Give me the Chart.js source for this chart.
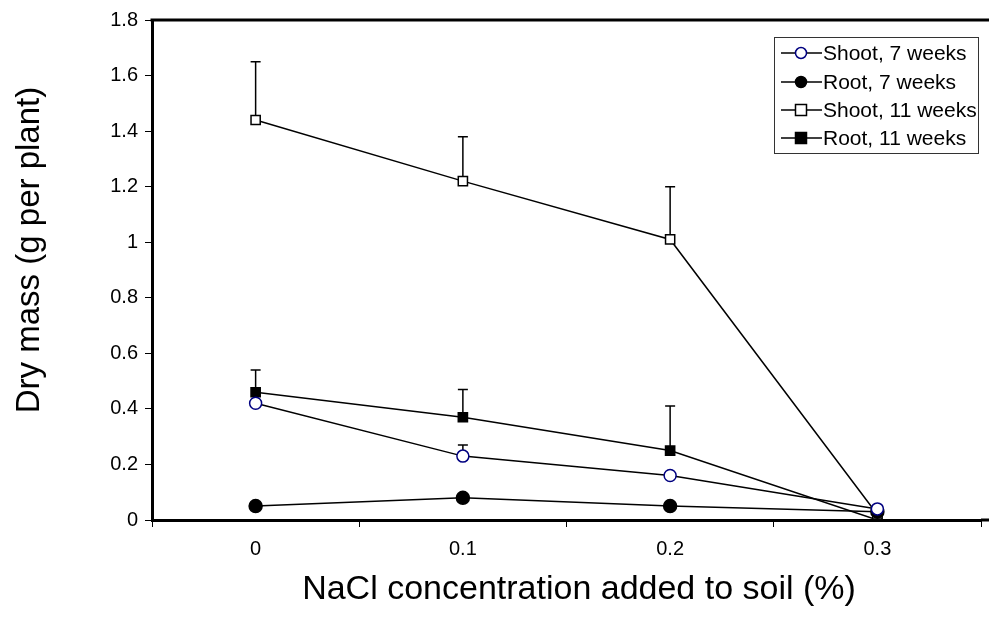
<!DOCTYPE html>
<html>
<head>
<meta charset="utf-8">
<script src="https://cdn.jsdelivr.net/npm/chart.js@4"></script>
<style>
html,body{margin:0;padding:0;background:#fff;}
#wrap{width:989px;height:619px;position:relative;}
</style>
</head>
<body>
<div id="wrap"><canvas id="c" width="989" height="619"></canvas></div>
<script>
const categories = ['0', '0.1', '0.2', '0.3'];
const shoot7 = [0.42, 0.23, 0.16, 0.04];
const root7 = [0.05, 0.08, 0.05, 0.03];
const shoot11 = [1.44, 1.22, 1.01, 0.02];
const root11 = [0.46, 0.37, 0.25, 0.00];
// upper ends of error bars (null = none shown)
const shoot7Err = [null, 0.27, null, null];
const root7Err = [null, null, null, null];
const shoot11Err = [1.65, 1.38, 1.20, null];
const root11Err = [0.54, 0.47, 0.41, null];
const seriesLabels = ['Shoot, 7 weeks', 'Root, 7 weeks', 'Shoot, 11 weeks', 'Root, 11 weeks'];
const yTicks = [0, 0.2, 0.4, 0.6, 0.8, 1, 1.2, 1.4, 1.6, 1.8];
const xTitle = 'NaCl concentration added to soil (%)';
const yTitle = 'Dry mass (g per plant)';

const FONT = "'Liberation Sans', Arial, sans-serif";

function ds(label, data, err, style, bg, border, radius) {
  return {
    label, data, errUpper: err,
    borderColor: '#000', borderWidth: 1.5,
    pointStyle: style, pointRadius: radius, pointHoverRadius: radius,
    pointBackgroundColor: bg, pointBorderColor: border, pointBorderWidth: 1.5,
    tension: 0, fill: false
  };
}

const errorBars = {
  id: 'errorBars',
  beforeDatasetsDraw(chart) {
    const ctx = chart.ctx, x = chart.scales.x, y = chart.scales.y;
    ctx.save();
    ctx.strokeStyle = '#000'; ctx.lineWidth = 1.5;
    chart.data.datasets.forEach(d => {
      (d.errUpper || []).forEach((u, i) => {
        if (u == null) return;
        const px = x.getPixelForValue(i);
        const p0 = y.getPixelForValue(d.data[i]);
        const p1 = y.getPixelForValue(u);
        ctx.beginPath();
        ctx.moveTo(px, p0); ctx.lineTo(px, p1);
        ctx.moveTo(px - 5, p1); ctx.lineTo(px + 5, p1);
        ctx.stroke();
      });
    });
    ctx.restore();
  },
  afterDraw(chart) {
    const ctx = chart.ctx, a = chart.chartArea;
    ctx.save();
    // top frame line and right extension of the x axis line
    ctx.strokeStyle = '#000'; ctx.lineWidth = 3;
    ctx.beginPath();
    ctx.moveTo(a.left - 1.5, a.top); ctx.lineTo(chart.width, a.top);
    ctx.moveTo(a.right, a.bottom); ctx.lineTo(chart.width, a.bottom);
    ctx.stroke();
    // axis titles
    ctx.fillStyle = '#000';
    ctx.textAlign = 'center'; ctx.textBaseline = 'middle';
    ctx.font = '34px ' + FONT;
    ctx.fillText(xTitle, 579, 590);
    ctx.save();
    ctx.translate(30, 250); ctx.rotate(-Math.PI / 2);
    ctx.font = '33px ' + FONT;
    ctx.fillText(yTitle, 0, 0);
    ctx.restore();
    // legend box
    const lx = 774, ly = 37, lw = 204, lh = 116;
    ctx.lineWidth = 1; ctx.strokeStyle = '#333';
    ctx.fillStyle = '#fff';
    ctx.fillRect(lx, ly, lw, lh);
    ctx.strokeRect(lx + 0.5, ly + 0.5, lw, lh);
    const rows = [53, 82, 110, 138];
    ctx.font = '21px ' + FONT;
    ctx.textAlign = 'left'; ctx.textBaseline = 'middle';
    chart.data.datasets.forEach((d, i) => {
      const ry = rows[i];
      ctx.strokeStyle = '#000'; ctx.lineWidth = 1.5;
      ctx.beginPath(); ctx.moveTo(781, ry); ctx.lineTo(822, ry); ctx.stroke();
      ctx.fillStyle = d.pointBackgroundColor; ctx.strokeStyle = d.pointBorderColor;
      ctx.beginPath();
      if (d.pointStyle === 'circle') { ctx.arc(801, ry, 5.5, 0, Math.PI * 2); }
      else { ctx.rect(795.5, ry - 5.5, 11, 11); }
      ctx.fill(); ctx.stroke();
      ctx.fillStyle = '#000';
      ctx.fillText(d.label, 823, ry + 1);
    });
    ctx.restore();
  }
};

new Chart(document.getElementById('c'), {
  type: 'line',
  data: {
    labels: categories,
    datasets: [
      ds(seriesLabels[0], shoot7, shoot7Err, 'circle', '#fff', '#000080', 6),
      ds(seriesLabels[1], root7, root7Err, 'circle', '#000', '#000', 6.5),
      ds(seriesLabels[2], shoot11, shoot11Err, 'rect', '#fff', '#000', 6.5),
      ds(seriesLabels[3], root11, root11Err, 'rect', '#000', '#000', 6.5)
    ]
  },
  options: {
    responsive: false,
    animation: false,
    layout: { padding: { top: 20, right: 6, left: 0, bottom: 0 } },
    plugins: { legend: { display: false }, tooltip: { enabled: false } },
    scales: {
      x: {
        type: 'category',
        offset: true,
        grid: { display: true, drawOnChartArea: false, drawTicks: true, tickLength: 7, color: '#000', lineWidth: 1, offset: true },
        border: { display: true, color: '#000', width: 3 },
        ticks: { color: '#000', font: { family: FONT, size: 20 }, padding: 10, maxRotation: 0 },
        afterFit(s) { s.height = 99; }
      },
      y: {
        min: 0, max: 1.8,
        afterBuildTicks(s) { s.ticks = yTicks.map(v => ({ value: v })); },
        grid: { display: true, drawOnChartArea: false, drawTicks: true, tickLength: 7, color: '#000', lineWidth: 1 },
        border: { display: true, color: '#000', width: 3 },
        ticks: { color: '#000', font: { family: FONT, size: 20 }, padding: 7, callback: v => String(v) },
        afterFit(s) { s.width = 152; }
      }
    }
  },
  plugins: [errorBars]
});
</script>
</body>
</html>
